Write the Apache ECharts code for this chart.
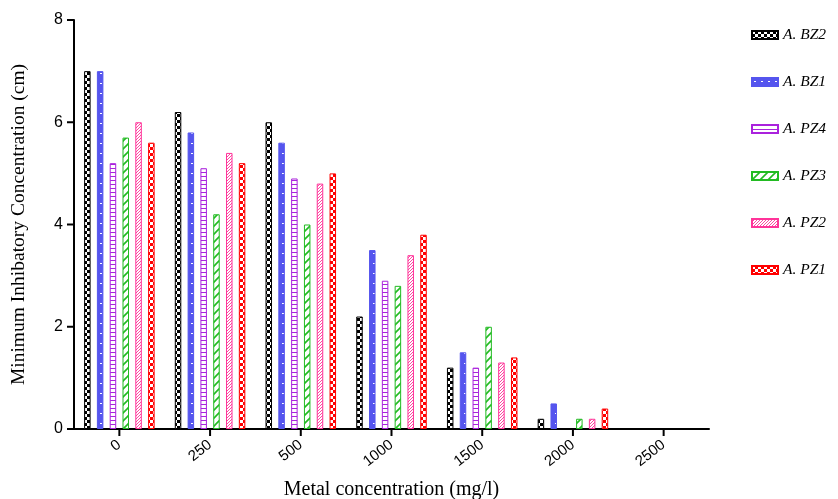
<!DOCTYPE html>
<html><head><meta charset="utf-8">
<script src="https://cdn.jsdelivr.net/npm/echarts@6/dist/echarts.min.js"></script>
<style>html,body{margin:0;padding:0;background:#fff}#c{width:838px;height:499px}</style></head>
<body><div id="c"></div>
<script>
const categories = ['0','250','500','1000','1500','2000','2500'];
const seriesNames = ['A. BZ2','A. BZ1','A. PZ4','A. PZ3','A. PZ2','A. PZ1'];
const bz2 = [7.0, 6.2, 6.0, 2.2, 1.2, 0.2, null];
const bz1 = [7.0, 5.8, 5.6, 3.5, 1.5, 0.5, null];
const pz4 = [5.2, 5.1, 4.9, 2.9, 1.2, null, null];
const pz3 = [5.7, 4.2, 4.0, 2.8, 2.0, 0.2, null];
const pz2 = [6.0, 5.4, 4.8, 3.4, 1.3, 0.2, null];
const pz1 = [5.6, 5.2, 5.0, 3.8, 1.4, 0.4, null];
const yTicks = [0, 2, 4, 6, 8];

function pat(w, h, draw) {
  const c = document.createElement('canvas');
  c.width = w; c.height = h;
  const g = c.getContext('2d');
  draw(g, w, h);
  return { image: c, repeat: 'repeat' };
}
function diag(g, s, col, lw) {
  g.strokeStyle = col; g.lineWidth = lw;
  g.beginPath();
  g.moveTo(-1, s + 1); g.lineTo(s + 1, -1);
  g.moveTo(-1, 1); g.lineTo(1, -1);
  g.moveTo(s - 1, s + 1); g.lineTo(s + 1, s - 1);
  g.stroke();
}
const cols = ['#000000', '#5555ee', '#aa22dd', '#22bb22', '#ff3399', '#ff0000'];
const fills = [
  pat(6, 6, (g) => { g.fillStyle = '#000'; g.fillRect(0,0,6,6); g.fillStyle = '#fff'; g.fillRect(0,0,3,3); g.fillRect(3,3,3,3); }),
  pat(7, 10, (g) => { g.fillStyle = '#5555ee'; g.fillRect(0,0,7,10); g.fillStyle = '#fff'; g.fillRect(2,3,2,1); }),
  pat(4, 4, (g) => { g.fillStyle = '#fff'; g.fillRect(0,0,4,4); g.fillStyle = '#aa22dd'; g.fillRect(0,0,4,1); }),
  pat(8, 8, (g) => { g.fillStyle = '#fff'; g.fillRect(0,0,8,8); diag(g, 8, '#22bb22', 1.6); }),
  pat(3, 3, (g) => { g.fillStyle = '#fff'; g.fillRect(0,0,3,3); diag(g, 3, '#ff3399', 0.9); }),
  pat(6, 6, (g) => { g.fillStyle = '#ff0000'; g.fillRect(0,0,6,6); g.fillStyle = '#fff'; g.fillRect(0,0,3,3); g.fillRect(3,3,3,3); })
];
const values = [bz2, bz1, pz4, pz3, pz2, pz1];

const barSeries = seriesNames.map((n, i) => ({
  name: n, type: 'bar', data: values[i],
  barWidth: 6.5, barGap: '97%',
  itemStyle: { color: fills[i], borderColor: cols[i], borderWidth: 1 }
}));

// axis ticks drawn through the chart's own scales
const xTickSeries = {
  type: 'custom', silent: true, clip: false, z: 5,
  data: categories.map((c, i) => [i, 0]),
  renderItem: (params, api) => {
    const p = api.coord([api.value(0), 0]);
    return { type: 'line', shape: { x1: p[0], y1: p[1], x2: p[0], y2: p[1] + 7 }, style: { stroke: '#000', lineWidth: 2 } };
  }
};
const yTickSeries = {
  type: 'custom', silent: true, clip: false, z: 5,
  data: yTicks.map((v) => [0, v]),
  renderItem: (params, api) => {
    const p = api.coord([0, api.value(1)]);
    const x = params.coordSys.x;
    return { type: 'line', shape: { x1: x - 7, y1: p[1], x2: x, y2: p[1] }, style: { stroke: '#000', lineWidth: 2 } };
  }
};

const chart = echarts.init(document.getElementById('c'));
chart.setOption({
  animation: false,
  backgroundColor: '#fff',
  grid: { left: 74, right: 129, top: 20, bottom: 70, containLabel: false, outerBoundsMode: 'none' },
  legend: {
    orient: 'vertical', left: 746, top: 22,
    itemWidth: 26, itemHeight: 8, itemGap: 31,
    icon: 'rect',
    data: seriesNames,
    textStyle: { fontFamily: 'Liberation Serif', fontStyle: 'italic', fontSize: 15.5, color: '#000' }
  },
  xAxis: {
    type: 'category', data: categories,
    name: 'Metal concentration (mg/l)', nameLocation: 'middle', nameGap: 51,
    nameTextStyle: { fontFamily: 'Liberation Serif', fontSize: 20, color: '#000' },
    axisLine: { show: true, lineStyle: { color: '#000', width: 2 } },
    axisTick: { show: false },
    axisLabel: { rotate: 38, margin: 14, fontFamily: 'Liberation Sans', fontSize: 15, color: '#000' }
  },
  yAxis: {
    type: 'value', min: yTicks[0], max: yTicks[yTicks.length - 1], interval: 2,
    name: 'Minimum Inhibatory Concentration (cm)', nameLocation: 'middle', nameGap: 45,
    nameTextStyle: { fontFamily: 'Liberation Serif', fontSize: 19.5, color: '#000' },
    axisLine: { show: true, lineStyle: { color: '#000', width: 2 } },
    axisTick: { show: false },
    axisLabel: { margin: 11, fontFamily: 'Liberation Sans', fontSize: 16, color: '#000' },
    splitLine: { show: false }
  },
  series: barSeries.concat([xTickSeries, yTickSeries])
});
</script></body></html>
